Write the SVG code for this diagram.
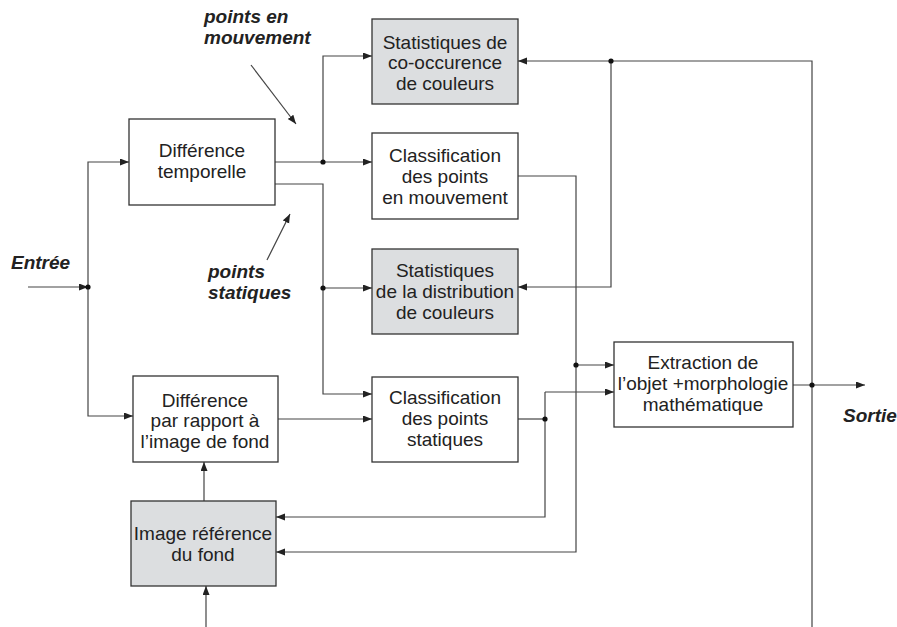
<svg xmlns="http://www.w3.org/2000/svg" width="897" height="627" viewBox="0 0 897 627">
<style>
.box{fill:#fff;stroke:#333;stroke-width:1.3}
.gray{fill:#dcdee0;stroke:#333;stroke-width:1.3}
.t{font-family:"Liberation Sans",Arial,sans-serif;font-size:19px;fill:#222;text-anchor:middle}
.lbl{font-family:"Liberation Sans",Arial,sans-serif;font-size:19px;font-weight:bold;font-style:italic;fill:#222}
.c{fill:none;stroke:#444;stroke-width:1.2}
.a{marker-end:url(#ah)}
.dot{fill:#111}
</style>
<defs>
<marker id="ah" markerUnits="userSpaceOnUse" markerWidth="10" markerHeight="8" refX="9" refY="3.5" orient="auto">
<path d="M0,0 L9,3.5 L0,7 z" fill="#222"/>
</marker>
</defs>
<rect width="897" height="627" fill="#fff"/>
<g id="connectors">
<path class="c a" d="M28,287 H88"/>
<path class="c a" d="M88,287 V162 H129"/>
<path class="c a" d="M88,287 V416 H133"/>
<path class="c a" d="M275,162 H372"/>
<path class="c a" d="M323,162 V56 H372"/>
<path class="c a" d="M275,184 H323 V394 H372"/>
<path class="c a" d="M323,288 H372"/>
<path class="c a" d="M278,419 H372"/>
<path class="c a" d="M204,501 V462"/>
<path class="c a" d="M206,627 V586"/>
<path class="c a" d="M518,176 H576 V552 H276"/>
<path class="c a" d="M576,365 H614"/>
<path class="c" d="M518,419 H545"/>
<path class="c a" d="M545,392 V517 H276"/>
<path class="c a" d="M545,392 H614"/>
<path class="c a" d="M793,385 H865"/>
<path class="c a" d="M812,627 V61 H518"/>
<path class="c a" d="M611,61 V287 H518"/>
<path class="c a" d="M251,65 L296,124"/>
<path class="c a" d="M267,260 L290,214"/>
<circle class="dot" cx="88" cy="287" r="2.6"/>
<circle class="dot" cx="323" cy="162" r="2.6"/>
<circle class="dot" cx="323" cy="288" r="2.6"/>
<circle class="dot" cx="576" cy="365" r="2.6"/>
<circle class="dot" cx="545" cy="419" r="2.6"/>
<circle class="dot" cx="812" cy="385" r="2.6"/>
<circle class="dot" cx="611" cy="61" r="2.6"/>
</g>
<g id="labels">
<text class="lbl" x="204" y="23">points en</text>
<text class="lbl" x="204" y="44">mouvement</text>
<text class="lbl" x="208" y="278">points</text>
<text class="lbl" x="208" y="299">statiques</text>
<text class="lbl" x="11" y="269">Entrée</text>
<text class="lbl" x="843" y="422">Sortie</text>
</g>
<g id="diff-temporelle">
<rect class="box" x="129" y="119" width="146" height="86"/>
<text class="t" x="202" y="157">Différence</text>
<text class="t" x="202" y="178">temporelle</text>
</g>
<g id="stat-cooccurence">
<rect class="gray" x="372" y="19" width="146" height="85"/>
<text class="t" x="445" y="49">Statistiques de</text>
<text class="t" x="445" y="69">co-occurence</text>
<text class="t" x="445" y="90">de couleurs</text>
</g>
<g id="classif-mouvement">
<rect class="box" x="372" y="133" width="146" height="86"/>
<text class="t" x="445" y="162">Classification</text>
<text class="t" x="445" y="183">des points</text>
<text class="t" x="445" y="204">en mouvement</text>
</g>
<g id="stat-distribution">
<rect class="gray" x="372" y="249" width="146" height="85"/>
<text class="t" x="445" y="277">Statistiques</text>
<text class="t" x="445" y="298">de la distribution</text>
<text class="t" x="445" y="319">de couleurs</text>
</g>
<g id="diff-fond">
<rect class="box" x="133" y="376" width="145" height="86"/>
<text class="t" x="205" y="407">Différence</text>
<text class="t" x="205" y="427">par rapport à</text>
<text class="t" x="205" y="448">l’image de fond</text>
</g>
<g id="classif-statiques">
<rect class="box" x="372" y="377" width="146" height="85"/>
<text class="t" x="445" y="404">Classification</text>
<text class="t" x="445" y="425">des points</text>
<text class="t" x="445" y="446">statiques</text>
</g>
<g id="image-reference">
<rect class="gray" x="131" y="501" width="145" height="85"/>
<text class="t" x="203" y="540">Image référence</text>
<text class="t" x="203" y="561">du fond</text>
</g>
<g id="extraction">
<rect class="box" x="614" y="342" width="179" height="85"/>
<text class="t" x="703" y="369">Extraction de</text>
<text class="t" x="703" y="390">l’objet +morphologie</text>
<text class="t" x="703" y="411">mathématique</text>
</g>
</svg>
